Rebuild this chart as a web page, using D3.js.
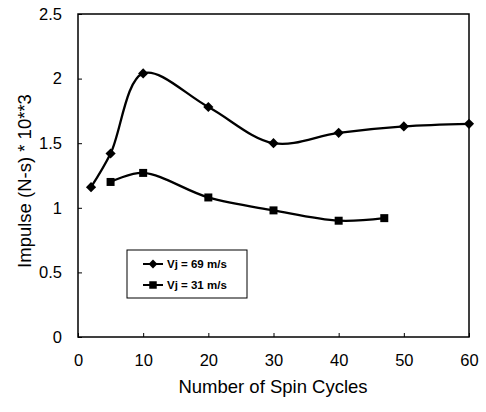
<!DOCTYPE html>
<html><head><meta charset="utf-8">
<script src="https://cdn.jsdelivr.net/npm/d3@7"></script>
<style>body{margin:0;background:#fff}svg{display:block}text{font-family:"Liberation Sans",Arial,sans-serif;fill:#000}</style>
</head><body><svg id="c" width="486" height="412"></svg>
<script>
const x69 = [2, 5, 10, 20, 30, 40, 50, 60];
const y69 = [1.16, 1.42, 2.04, 1.78, 1.50, 1.58, 1.63, 1.65];
const x31 = [5, 10, 20, 30, 40, 47];
const y31 = [1.20, 1.27, 1.08, 0.98, 0.90, 0.92];
const xTicks = [0, 10, 20, 30, 40, 50, 60];
const yTicks = [0, 0.5, 1, 1.5, 2, 2.5];
const seriesNames = ["Vj = 69 m/s", "Vj = 31 m/s"];

const svg = d3.select("#c");
const L = 78, R = 469, T = 14, B = 337;
const x = d3.scaleLinear().domain([0, 60]).range([L, R]);
const y = d3.scaleLinear().domain([0, 2.5]).range([B, T]);

svg.append("rect").attr("x", L).attr("y", T).attr("width", R - L).attr("height", B - T)
  .attr("fill", "none").attr("stroke", "#000").attr("stroke-width", 1.5);

const xa = svg.append("g").attr("transform", `translate(0,${B})`)
  .call(d3.axisBottom(x).tickValues(xTicks).tickSize(-4).tickPadding(17).tickFormat(d3.format("d")));
const ya = svg.append("g").attr("transform", `translate(${L},0)`)
  .call(d3.axisLeft(y).tickValues(yTicks).tickSize(-4).tickPadding(16).tickFormat(d => String(d)));
[xa, ya].forEach(g => {
  g.select(".domain").remove();
  g.selectAll("line").attr("stroke", "#000");
  g.selectAll("text").attr("font-size", 16.5).attr("font-family", '"Liberation Sans",Arial,sans-serif').attr("fill", "#000");
});

svg.append("text").attr("x", 273).attr("y", 393).attr("text-anchor", "middle").attr("font-size", 18.5).text("Number of Spin Cycles");
svg.append("text").attr("transform", "translate(31,181) rotate(-90)").attr("text-anchor", "middle").attr("font-size", 18.5).text("Impulse (N-s) * 10**3");

const line = d3.line().x(d => x(d[0])).y(d => y(d[1])).curve(d3.curveCatmullRom.alpha(0.5));
const s1 = x69.map((v, i) => [v, y69[i]]);
const s2 = x31.map((v, i) => [v, y31[i]]);
svg.append("path").attr("d", line(s1)).attr("fill", "none").attr("stroke", "#000").attr("stroke-width", 2.3);
svg.append("path").attr("d", line(s2)).attr("fill", "none").attr("stroke", "#000").attr("stroke-width", 2.3);

const diamond = d3.symbol().type(d3.symbolDiamond2).size(66);
const square = d3.symbol().type(d3.symbolSquare).size(64);
svg.selectAll(".d").data(s1).join("path").attr("d", diamond)
  .attr("transform", d => `translate(${x(d[0])},${y(d[1])})`).attr("fill", "#000");
svg.selectAll(".s").data(s2).join("path").attr("d", square)
  .attr("transform", d => `translate(${x(d[0])},${y(d[1])})`).attr("fill", "#000");

// legend
const lg = svg.append("g");
lg.append("rect").attr("x", 127).attr("y", 250).attr("width", 120).attr("height", 48)
  .attr("fill", "#fff").attr("stroke", "#000").attr("stroke-width", 1);
const diamondL = d3.symbol().type(d3.symbolDiamond2).size(50);
const squareL = d3.symbol().type(d3.symbolSquare).size(56);
const rows = [{n: seriesNames[0], s: diamondL, yy: 264}, {n: seriesNames[1], s: squareL, yy: 285}];
rows.forEach(r => {
  lg.append("line").attr("x1", 143).attr("x2", 163).attr("y1", r.yy).attr("y2", r.yy).attr("stroke", "#000").attr("stroke-width", 2);
  lg.append("path").attr("d", r.s).attr("transform", `translate(153,${r.yy})`).attr("fill", "#000");
  lg.append("text").attr("x", 167).attr("y", r.yy + 4).attr("font-size", 11.5).attr("font-weight", "bold").text(r.n);
});
</script></body></html>
